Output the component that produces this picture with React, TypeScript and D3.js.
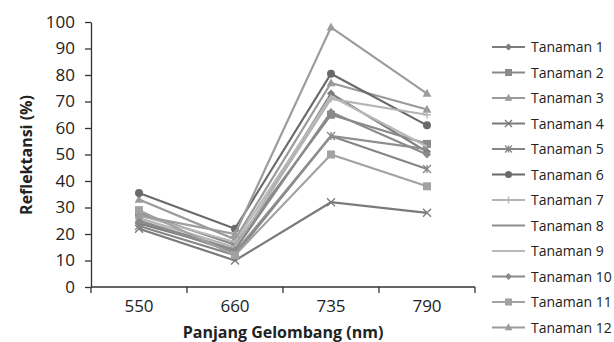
import React, { useEffect, useRef } from "react";
import * as d3 from "d3";

const wavelengths = ["550", "660", "735", "790"];
const seriesNames = [
  "Tanaman 1", "Tanaman 2", "Tanaman 3", "Tanaman 4", "Tanaman 5", "Tanaman 6",
  "Tanaman 7", "Tanaman 8", "Tanaman 9", "Tanaman 10", "Tanaman 11", "Tanaman 12",
];
const t1 = [24, 14, 73, 51];
const t2 = [28, 16, 65, 54];
const t3 = [33, 18, 77, 67];
const t4 = [22, 10, 32, 28];
const t5 = [23, 12, 57, 44.5];
const t6 = [35.5, 22, 80.5, 61];
const t7 = [26, 15, 71, 65];
const t8 = [25, 13, 57, 52];
const t9 = [27, 17, 72, 53];
const t10 = [25, 14, 66, 50];
const t11 = [29, 12, 50, 38];
const t12 = [27, 20, 98, 73];
const yTicks = [0, 10, 20, 30, 40, 50, 60, 70, 80, 90, 100];

const seriesValues = [t1, t2, t3, t4, t5, t6, t7, t8, t9, t10, t11, t12];
const markers = ["diamond", "square", "triangle", "x", "star", "circle", "plus", "none", "none", "diamond", "square", "triangle"];
const colors = ["#7c7c7c", "#8a8a8a", "#9a9a9a", "#7a7a7a", "#858585", "#6a6a6a", "#b4b4b4", "#8e8e8e", "#b8b8b8", "#8a8a8a", "#a2a2a2", "#9c9c9c"];

const FONT = "'Open Sans', 'Liberation Sans', sans-serif";

function drawMarker(g: any, type: string, x: number, y: number, color: string, s: number) {
  if (type === "none") return;
  if (type === "circle") {
    g.append("circle").attr("cx", x).attr("cy", y).attr("r", s).attr("fill", color);
  } else if (type === "square") {
    g.append("rect").attr("x", x - s).attr("y", y - s).attr("width", 2 * s).attr("height", 2 * s).attr("fill", color);
  } else if (type === "diamond") {
    g.append("path").attr("d", `M${x},${y - s}L${x + s},${y}L${x},${y + s}L${x - s},${y}Z`).attr("fill", color);
  } else if (type === "triangle") {
    g.append("path").attr("d", `M${x},${y - s * 1.2}L${x + s * 1.1},${y + s * 0.8}L${x - s * 1.1},${y + s * 0.8}Z`).attr("fill", color);
  } else if (type === "x") {
    g.append("path").attr("d", `M${x - s},${y - s}L${x + s},${y + s}M${x - s},${y + s}L${x + s},${y - s}`).attr("stroke", color).attr("stroke-width", 1.3);
  } else if (type === "star") {
    g.append("path").attr("d", `M${x - s},${y - s}L${x + s},${y + s}M${x - s},${y + s}L${x + s},${y - s}M${x},${y - s}L${x},${y + s}`).attr("stroke", color).attr("stroke-width", 1.3);
  } else if (type === "plus") {
    g.append("path").attr("d", `M${x - s},${y}L${x + s},${y}M${x},${y - s}L${x},${y + s}`).attr("stroke", color).attr("stroke-width", 1.3);
  }
}

const Chart = () => {
  const ref = useRef<SVGSVGElement | null>(null);

  useEffect(() => {
    const svg = d3.select(ref.current);
    svg.selectAll("*").remove();

    const x = d3.scaleBand().domain(wavelengths).range([91, 475]);
    const y = d3.scaleLinear().domain([0, 100]).range([287, 22]);

    // y axis
    const yAxis = svg.append("g").attr("transform", "translate(91,0)")
      .call(d3.axisLeft(y).tickValues(yTicks).tickSize(6).tickSizeOuter(0).tickPadding(10));
    yAxis.select(".domain").attr("stroke", "#333").attr("stroke-width", 1.3);
    yAxis.selectAll("line").attr("stroke", "#333").attr("stroke-width", 1.3);
    yAxis.selectAll("text").attr("font-family", FONT).attr("font-size", 17).attr("fill", "#222");

    // x axis with ticks at category boundaries
    const xAxis = svg.append("g").attr("transform", "translate(0,287)");
    xAxis.append("line").attr("x1", 91).attr("x2", 475).attr("stroke", "#333").attr("stroke-width", 1.3);
    const bounds = wavelengths.map((w) => x(w) as number).concat([x.range()[1]]);
    bounds.forEach((b) => {
      xAxis.append("line").attr("x1", b).attr("x2", b).attr("y1", 0).attr("y2", 6).attr("stroke", "#333").attr("stroke-width", 1.3);
    });
    wavelengths.forEach((w) => {
      xAxis.append("text").attr("x", (x(w) as number) + x.bandwidth() / 2).attr("y", 25)
        .attr("text-anchor", "middle").attr("font-family", FONT).attr("font-size", 17).attr("fill", "#222").text(w);
    });

    // titles
    svg.append("text").attr("x", 283).attr("y", 338).attr("text-anchor", "middle")
      .attr("font-family", FONT).attr("font-size", 16).attr("font-weight", "bold").attr("fill", "#222")
      .text("Panjang Gelombang (nm)");
    svg.append("text").attr("transform", "translate(32,155) rotate(-90)").attr("text-anchor", "middle")
      .attr("font-family", FONT).attr("font-size", 16).attr("font-weight", "bold").attr("fill", "#222")
      .text("Reflektansi (%)");

    // series
    const cx = (i: number) => (x(wavelengths[i]) as number) + x.bandwidth() / 2;
    const line = d3.line<number>().x((_, i) => cx(i)).y((d) => y(d));
    const plot = svg.append("g");
    seriesValues.forEach((vals, si) => {
      plot.append("path").datum(vals).attr("d", line).attr("fill", "none")
        .attr("stroke", colors[si]).attr("stroke-width", 2.2);
      vals.forEach((v, i) => drawMarker(plot, markers[si], cx(i), y(v), colors[si], 4));
    });

    // legend
    const legend = svg.append("g");
    seriesNames.forEach((name, i) => {
      const ly = 47 + i * 25.5;
      legend.append("line").attr("x1", 492).attr("x2", 525).attr("y1", ly).attr("y2", ly)
        .attr("stroke", colors[i]).attr("stroke-width", 2.2);
      drawMarker(legend, markers[i], 508.5, ly, colors[i], 3.5);
      legend.append("text").attr("x", 531).attr("y", ly + 5).attr("font-family", FONT)
        .attr("font-size", 14).attr("fill", "#222").text(name);
    });
  }, []);

  return <svg ref={ref} width={614} height={342} style={{ display: "block", background: "#fff" }} />;
};

export default function App() {
  return (
    <div style={{ position: "absolute", left: 0, top: 0 }}>
      <Chart />
    </div>
  );
}
